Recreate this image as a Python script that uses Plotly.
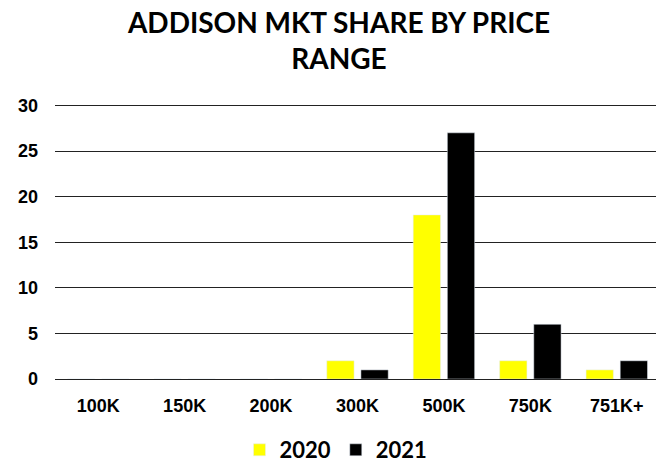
import plotly.graph_objects as go

categories = ["100K", "150K", "200K", "300K", "500K", "750K", "751K+"]
values_2020 = [0, 0, 0, 2, 18, 2, 1]
values_2021 = [0, 0, 0, 1, 27, 6, 2]
y_ticks = [0, 5, 10, 15, 20, 25, 30]

# the page body adds an 8px margin, so the figure is sized/positioned to compensate
W, H = 656, 456

fig = go.Figure()
fig.add_trace(go.Bar(name="2020", x=categories, y=values_2020, marker_color="#FFFF00"))
fig.add_trace(go.Bar(name="2021", x=categories, y=values_2021, marker_color="#000000"))

fig.update_layout(
    width=W, height=H,
    paper_bgcolor="white", plot_bgcolor="white",
    margin=dict(l=47, r=4, t=92, b=85, autoexpand=False),
    barmode="group", bargap=0.21, bargroupgap=0.2,
    title=dict(
        text="ADDISON MKT SHARE BY PRICE<br>RANGE",
        x=331 / W, xanchor="center", xref="container",
        y=1 - 25 / H, yanchor="middle", yref="container",
        font=dict(family="Lato", size=28, color="black", weight="bold"),
    ),
    legend=dict(
        orientation="h", x=0.5, xanchor="center", xref="container",
        yref="container", y=1 - 442 / H, yanchor="middle",
        font=dict(family="Lato", size=22, color="black", weight="bold"),
        itemwidth=30, tracegroupgap=0,
    ),
    font=dict(family="Liberation Sans", color="black"),
)
fig.update_yaxes(
    range=[0, 30.6], tickvals=y_ticks, showgrid=True, gridcolor="#222222", gridwidth=1.2,
    zeroline=True, zerolinecolor="#222222", zerolinewidth=1.2, showline=False,
    tickfont=dict(family="Liberation Sans", size=18, color="black", weight="bold"),
    ticklabelstandoff=16, fixedrange=True,
)
fig.update_xaxes(
    showgrid=False, showline=False, ticks="",
    tickfont=dict(family="Liberation Sans", size=18, color="black", weight="bold"),
    ticklabelstandoff=14,
)
fig.write_html("out.html")
